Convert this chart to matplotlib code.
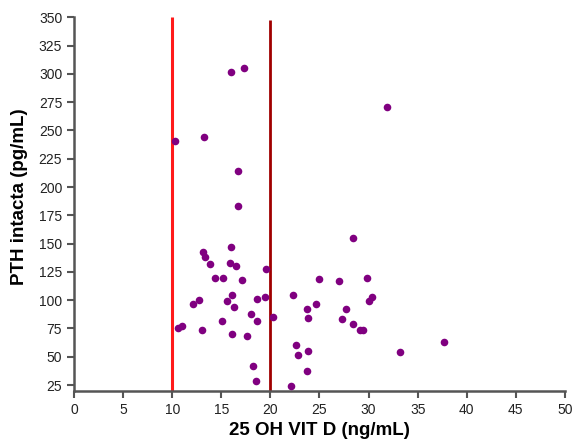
import matplotlib.pyplot as plt

plt.rcParams['font.family'] = ['Liberation Sans', 'DejaVu Sans']

# 25 OH vitamin D (ng/mL) vs intact PTH (pg/mL)
vit_d = [10.3, 13.2, 16.0, 17.3, 16.7, 31.9, 16.7,
         13.1, 13.3, 16.0, 13.8, 15.9, 16.5, 17.1, 14.4, 15.2,
         12.15, 12.75, 15.6, 16.1, 16.3, 18.6, 18.0, 18.6,
         10.6, 11.0, 13.0, 15.1, 16.1, 17.6, 18.2, 18.5,
         28.4, 19.6, 24.9, 27.0, 29.8, 22.3, 19.5, 30.3, 30.0,
         24.6, 23.7, 27.7, 20.3, 23.8, 27.3, 28.4, 29.1, 29.4,
         22.6, 37.7, 22.8, 23.8, 33.2, 23.7, 22.1]
pth = [241, 244, 302, 305, 214, 271, 183,
       143, 138, 147, 132, 133, 130, 118, 120, 120,
       97, 100, 99, 105, 94, 101, 88, 81.5,
       75, 77, 74, 81.5, 70, 68, 42, 29,
       155, 128, 119, 117, 120, 105, 103, 103, 99,
       96.5, 92, 92, 85, 84, 83, 79, 74, 73.5,
       60.5, 63, 51.5, 55, 54.5, 37, 24.5]

cutoffs = [10, 20]
cutoff_colors = ['#ff1a1a', '#a00000']

fig = plt.figure(figsize=(5.83, 4.45), dpi=100)
ax = fig.add_axes([0.127, 0.122, 0.842, 0.839])

ax.vlines(cutoffs[0], 20, 350, color=cutoff_colors[0], lw=2.2, zorder=1)
ax.vlines(cutoffs[1], 20, 348, color=cutoff_colors[1], lw=2.0, zorder=1)
ax.scatter(vit_d, pth, s=30, color='#800080', zorder=3, linewidths=0)

ax.set_xlim(0, 50)
ax.set_ylim(20, 350)
ax.set_xticks(range(0, 51, 5))
ax.set_yticks(range(25, 351, 25))

for side in ['top', 'right']:
    ax.spines[side].set_visible(False)
for side in ['left', 'bottom']:
    ax.spines[side].set_color('#555555')
    ax.spines[side].set_linewidth(1.8)
ax.tick_params(direction='out', length=5, width=1.5, color='#555555',
               labelsize=10, labelcolor='#222222')

ax.set_xlabel('25 OH VIT D (ng/mL)', fontsize=13.5, fontweight='bold', labelpad=4)
ax.set_ylabel('PTH intacta (pg/mL)', fontsize=13.5, fontweight='bold')
ax.yaxis.set_label_coords(-0.094, 0.52)

fig.savefig('out.png', dpi=100)
